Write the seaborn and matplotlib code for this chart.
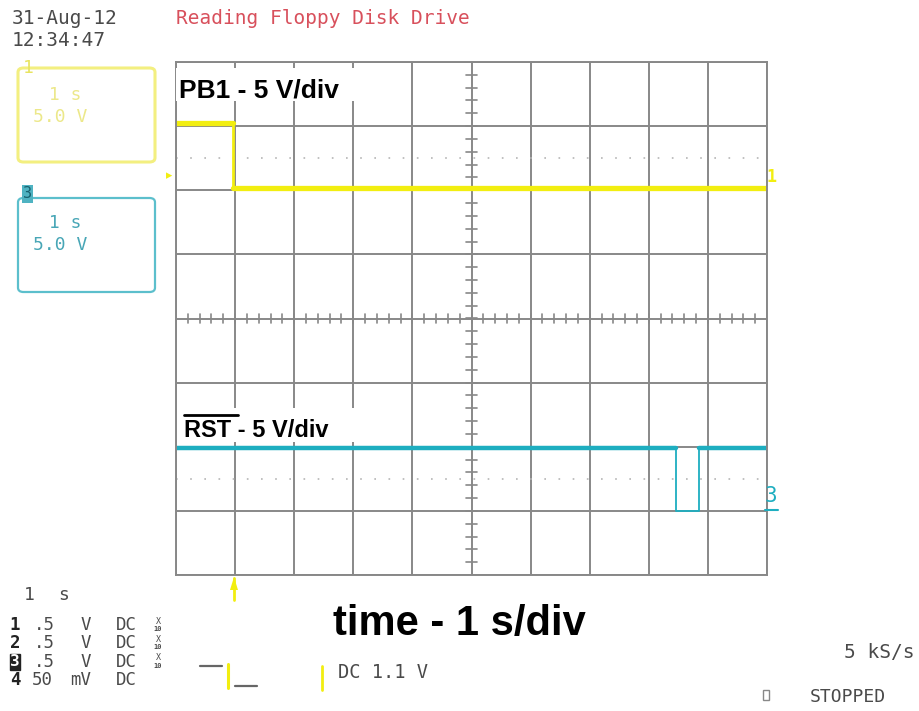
import numpy as np
import pandas as pd
import matplotlib
matplotlib.use("Agg")
import matplotlib.pyplot as plt
from matplotlib.lines import Line2D
from matplotlib.patches import FancyBboxPatch, Rectangle, Polygon
import seaborn as sns

# ---- data (time in s, amplitude in divisions) ----
pb1_t = [0.0, 0.97, 0.97, 10.0]
pb1_v = [3.05, 3.05, 2.03, 2.03]
rst_t = [0.0, 8.46, 8.46, 8.85, 8.85, 10.0]
rst_v = [-2.02, -2.02, -3.0, -3.0, -2.02, -2.02]

x_divs = list(range(0, 11))
y_divs = list(range(-4, 5))

title = "Reading Floppy Disk Drive"
date_txt = "31-Aug-12"
time_txt = "12:34:47"
pb1_label = "PB1 - 5 V/div"
rst_label = "RST - 5 V/div"
time_label = "time - 1 s/div"
ch_nums = ["1", "2", "3", "4"]
ch_scale = [".5", ".5", ".5", "50"]
ch_unit = ["V", "V", "V", "mV"]
ch_coup = ["DC", "DC", "DC", "DC"]
ch_probe = [True, True, True, False]

YEL = "#f2ee10"
CYA = "#1eaec0"
GRID = "#888888"
TXT = "#4a4a4a"
MONO = "DejaVu Sans Mono"
SANS = "Liberation Sans"

sns.set_style("white")
W, H = 919, 711
fig = plt.figure(figsize=(W / 100, H / 100), dpi=100)

def fx(px):
    return px / W

def fy(py):
    return 1 - py / H

L, T, R, B = 176, 62, 767, 575
ax = fig.add_axes([fx(L), fy(B), (R - L) / W, (B - T) / H])
ax.set_xlim(0, 10)
ax.set_ylim(-4, 4)
ax.set_xticks(x_divs)
ax.set_yticks(y_divs)
ax.set_xticklabels([])
ax.set_yticklabels([])
ax.tick_params(length=0)
ax.grid(True, color=GRID, lw=1.4)
for s in ax.spines.values():
    s.set_color(GRID)
    s.set_linewidth(1.4)

# centre-axis minor ticks
for xv in np.arange(0, 10.01, 0.2):
    ax.plot([xv, xv], [-0.07, 0.07], color=GRID, lw=1.2)
for yv in np.arange(-4, 4.01, 0.2):
    ax.plot([4.9, 5.1], [yv, yv], color=GRID, lw=1.2)
# dotted reference rows
for yv in (2.5, -2.5):
    ax.axhline(yv, color="#b5b5b5", lw=1.2, ls=(0, (1, 7.5)))

# traces
df1 = pd.DataFrame({"t": pb1_t, "v": pb1_v})
df3 = pd.DataFrame({"t": rst_t, "v": rst_v})
sns.lineplot(data=df1, x="t", y="v", ax=ax, sort=False, estimator=None,
             color=YEL, lw=2.0)
sns.lineplot(data=df3, x="t", y="v", ax=ax, sort=False, estimator=None,
             color=CYA, lw=1.3)
for i in range(len(pb1_t) - 1):
    if pb1_v[i] == pb1_v[i + 1]:
        sns.lineplot(x=pb1_t[i:i + 2], y=pb1_v[i:i + 2], ax=ax, color=YEL,
                     lw=3.8, estimator=None)
for i in range(len(rst_t) - 1):
    if rst_v[i] == rst_v[i + 1] and rst_v[i] == rst_v[0]:
        sns.lineplot(x=rst_t[i:i + 2], y=rst_v[i:i + 2],
                     ax=ax, color=CYA, lw=3.2, estimator=None)
ax.set_xlabel("")
ax.set_ylabel("")

# ---- header text ----
fig.text(fx(12), fy(18), date_txt, family=MONO, fontsize=14, color=TXT, va="center")
fig.text(fx(12), fy(41), time_txt, family=MONO, fontsize=14, color=TXT, va="center")
fig.text(fx(176), fy(18), title, family=MONO, fontsize=14, color="#d8505c", va="center")

# ---- channel boxes ----
fig.add_artist(FancyBboxPatch((fx(18), fy(162)), fx(155) - fx(18), fy(68) - fy(162),
                              boxstyle="round,pad=0,rounding_size=0.006",
                              transform=fig.transFigure, fill=False,
                              ec="#f3ef80", lw=2.2))
fig.text(fx(28), fy(68), "1", family=MONO, fontsize=13, color="#e8e460", va="center", ha="center")
fig.text(fx(38), fy(95), " 1 s", family=MONO, fontsize=13, color="#ece88a", va="center")
fig.text(fx(33), fy(117), "5.0 V", family=MONO, fontsize=13, color="#ece88a", va="center")

fig.add_artist(FancyBboxPatch((fx(18), fy(292)), fx(155) - fx(18), fy(198) - fy(292),
                              boxstyle="round,pad=0,rounding_size=0.006",
                              transform=fig.transFigure, fill=False,
                              ec="#5cbfcc", lw=1.6))
fig.text(fx(27.5), fy(194), "3", family=MONO, fontsize=11, color="#16606e", va="center", ha="center",
         bbox=dict(boxstyle="square,pad=0.08", fc="#4fb3c2", ec="none"))
fig.text(fx(38), fy(223), " 1 s", family=MONO, fontsize=13, color="#48a6b6", va="center")
fig.text(fx(33), fy(245), "5.0 V", family=MONO, fontsize=13, color="#48a6b6", va="center")

# side markers
fig.text(fx(169), fy(176), "\u25b8", fontsize=9, color=YEL, va="center", ha="center")
fig.text(fx(772), fy(177), "1", family=MONO, fontsize=12, color=YEL, va="center", ha="center",
         fontweight="bold")
fig.text(fx(771), fy(496), "3", family=MONO, fontsize=15, color=CYA, va="center", ha="center")
fig.add_artist(Line2D([fx(765), fx(778)], [fy(510), fy(510)], color=CYA, lw=1.5,
                      transform=fig.transFigure))

# ---- annotations ----
fig.add_artist(Rectangle((fx(176), fy(101)), fx(363) - fx(176), fy(68) - fy(101),
                         transform=fig.transFigure, fc="white", ec="none", zorder=5))
fig.text(fx(179), fy(97), pb1_label, family=SANS, fontweight="bold", fontsize=19,
         color="black", va="baseline", zorder=6)
fig.add_artist(Rectangle((fx(178), fy(442)), fx(365) - fx(178), fy(408) - fy(442),
                         transform=fig.transFigure, fc="white", ec="none", zorder=5))
fig.text(fx(184), fy(437), rst_label, family=SANS, fontweight="bold",
         fontsize=17, color="black", va="baseline", zorder=6)
fig.add_artist(Line2D([fx(184), fx(238)], [fy(415), fy(415)], color="black", lw=2,
                      transform=fig.transFigure, zorder=7))
fig.text(fx(333), fy(635), time_label, family=SANS, fontweight="bold", fontsize=30,
         color="black", va="baseline")

# trigger arrow under grid
fig.add_artist(Line2D([fx(234), fx(234)], [fy(578), fy(600)], color=YEL, lw=2,
                      transform=fig.transFigure))
fig.add_artist(Polygon([[fx(230), fy(590)], [fx(238), fy(590)], [fx(234), fy(577)]],
                       closed=True, transform=fig.transFigure, fc=YEL, ec="none"))

# ---- bottom info ----
fig.text(fx(24), fy(595), "1", family=MONO, fontsize=13, color=TXT, va="center")
fig.text(fx(58), fy(595), "s", family=MONO, fontsize=13, color=TXT, va="center")
rows_y = [625, 643, 662, 680]
for i, yy in enumerate(rows_y):
    kw = dict(family=MONO, fontsize=12.5, color=TXT, va="center")
    if ch_nums[i] == "3":
        fig.text(fx(15), fy(yy), ch_nums[i], family=MONO, fontsize=11.5, fontweight="bold",
                 color="white", va="center", ha="center",
                 bbox=dict(boxstyle="square,pad=0.02", fc="#222222", ec="#222222"))
    else:
        fig.text(fx(15), fy(yy), ch_nums[i], family=MONO, fontsize=12.5, fontweight="bold",
                 color="#222222", va="center", ha="center")
    if ch_scale[i].startswith("."):
        fig.text(fx(34), fy(yy), ch_scale[i], **kw)
    else:
        fig.text(fx(32), fy(yy), ch_scale[i], **kw)
    fig.text(fx(81) if ch_unit[i] == "V" else fx(70), fy(yy), ch_unit[i], **kw)
    fig.text(fx(116), fy(yy), ch_coup[i], **kw)
    if ch_probe[i]:
        fig.text(fx(158), fy(yy - 4), "X", family=MONO, fontsize=6, color=TXT,
                 va="center", ha="center")
        fig.text(fx(158), fy(yy + 4), "10", family=MONO, fontsize=5, color=TXT,
                 va="center", ha="center", fontweight="bold")

# trigger symbol
fig.add_artist(Line2D([fx(200), fx(222)], [fy(666), fy(666)], color="#666666", lw=1.6,
                      transform=fig.transFigure))
fig.add_artist(Line2D([fx(228), fx(228)], [fy(664), fy(688)], color=YEL, lw=2.2,
                      transform=fig.transFigure))
fig.add_artist(Line2D([fx(235), fx(257)], [fy(686), fy(686)], color="#666666", lw=1.6,
                      transform=fig.transFigure))
fig.add_artist(Line2D([fx(322), fx(322)], [fy(666), fy(690)], color=YEL, lw=2.0,
                      transform=fig.transFigure))
fig.text(fx(338), fy(673), "DC 1.1 V", family=MONO, fontsize=13.5, color=TXT, va="center")

fig.text(fx(915), fy(652), "5 kS/s", family=MONO, fontsize=14, color=TXT, va="center", ha="right")
fig.add_artist(Rectangle((fx(763), fy(700)), fx(769) - fx(763), fy(690) - fy(700),
                         transform=fig.transFigure, fill=False, ec="#888888", lw=1))
fig.text(fx(810), fy(697), "STOPPED", family=MONO, fontsize=13, color=TXT, va="center")

fig.savefig("out.png", dpi=100)
